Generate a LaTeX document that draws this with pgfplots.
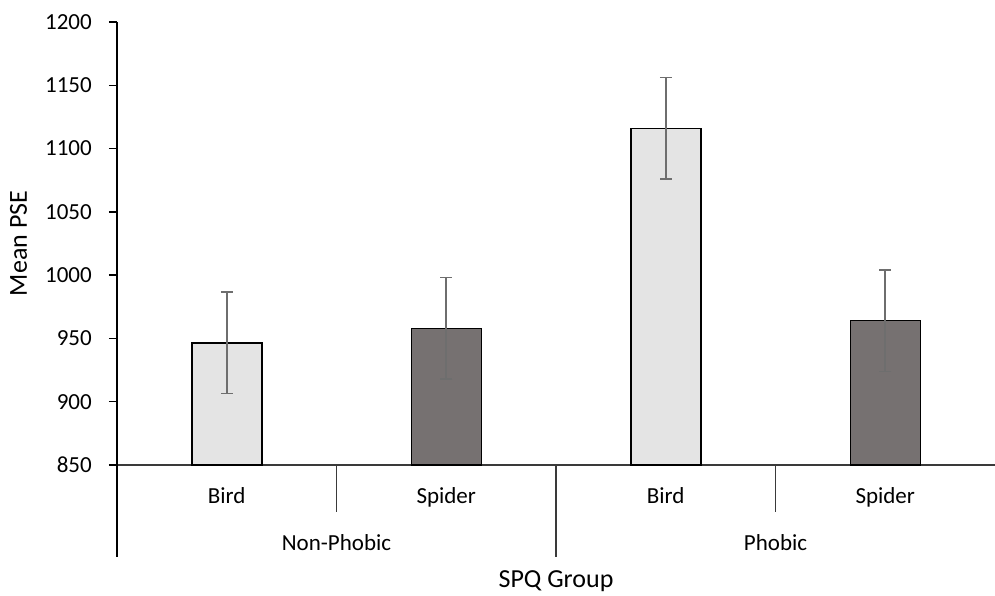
\documentclass[border=0pt]{standalone}
\usepackage{pgfplots}
\pgfplotsset{compat=1.18}
\usepackage{fontspec}
\setmainfont{Carlito}
\definecolor{birdfill}{HTML}{E4E4E4}
\definecolor{spiderfill}{HTML}{767171}
\definecolor{errgray}{HTML}{6E6E6E}
\definecolor{axisgray}{HTML}{3A3A3A}

\begin{document}
\begin{tikzpicture}[font=\fontsize{23}{28}\selectfont]
\useasboundingbox (-117pt,-130pt) rectangle (878pt,465pt);
\begin{axis}[
  scale only axis, width=878pt, height=443pt,
  xmin=-0.5, xmax=3.5, ymin=850, ymax=1200,
  axis lines=left, axis line style={-},
  x axis line style={draw=axisgray, line width=1.2pt},
  y axis line style={draw=black, line width=1.8pt},
  ytick={850,900,...,1200},
  tick align=outside, major tick length=8pt,
  ytick style={black, line width=1.5pt},
  xtick={0,1,2,3},
  xticklabels={Bird,Spider,Bird,Spider},
  xtick style={draw=none},
  xticklabel style={anchor=base, yshift=-30pt},
  yticklabel style={inner sep=0pt, xshift=-17pt},
  /pgf/number format/assume math mode=true,
  /pgf/number format/1000 sep={},
  clip mode=individual,
  ybar, bar width=70pt,
  error bars/y dir=both, error bars/y explicit,
  error bars/error bar style={errgray, line width=1.6pt},
  error bars/error mark options={errgray, line width=1.6pt, mark size=6pt, rotate=90},
]
% Bird condition
\addplot[bar shift=0pt, fill=birdfill, draw=black, line width=1.5pt]
  coordinates {(0,946.5) +- (0,40) (2,1116) +- (0,40)};
% Spider condition
\addplot[bar shift=0pt, fill=spiderfill, draw=black, line width=1.5pt]
  coordinates {(1,958) +- (0,40) (3,964) +- (0,40)};

% category separators below the axis
\draw[axisgray, line width=1.2pt] (axis cs:0.5,850) -- ([yshift=-47pt]axis cs:0.5,850);
\draw[axisgray, line width=1.2pt] (axis cs:2.5,850) -- ([yshift=-47pt]axis cs:2.5,850);
\draw[axisgray, line width=1.5pt] (axis cs:1.5,850) -- ([yshift=-92pt]axis cs:1.5,850);
\draw[black, line width=1.8pt] (axis cs:-0.5,850) -- ([yshift=-92pt]axis cs:-0.5,850);

\node[anchor=base] at ([yshift=-85pt]axis cs:0.5,850) {Non-Phobic};
\node[anchor=base] at ([yshift=-85pt]axis cs:2.5,850) {Phobic};
\node[anchor=base, font=\fontsize{26}{31}\selectfont] at ([yshift=-122pt]axis cs:1.5,850) {SPQ Group};
\node[rotate=90, anchor=center, font=\fontsize{26}{31}\selectfont] at ([xshift=-98.5pt]axis cs:-0.5,1025) {Mean PSE};
\end{axis}
\end{tikzpicture}
\end{document}
